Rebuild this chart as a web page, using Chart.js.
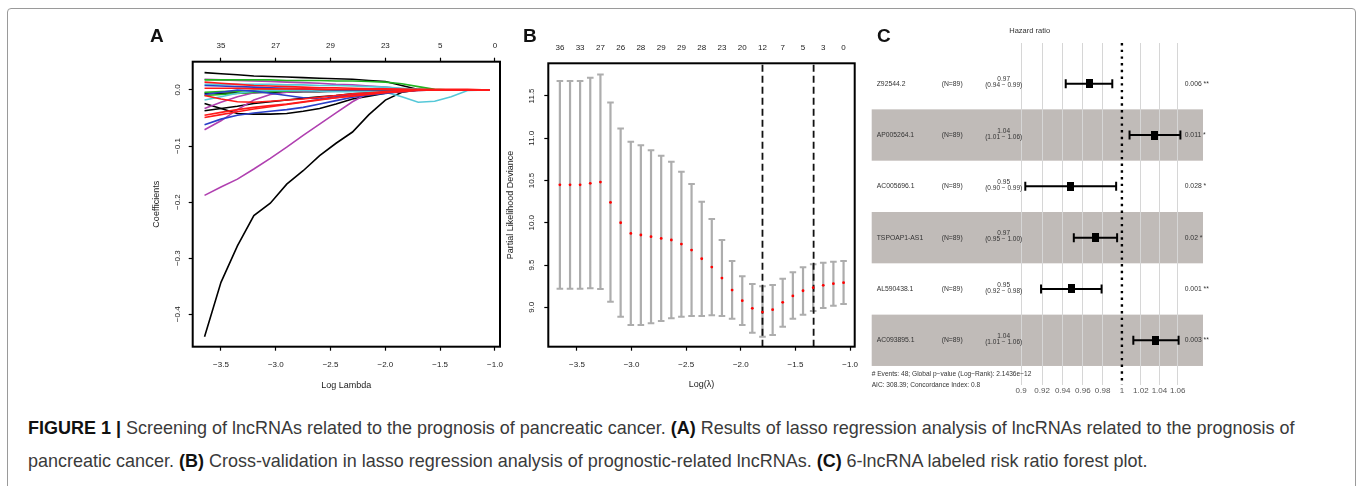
<!DOCTYPE html>
<html>
<head>
<meta charset="utf-8">
<script src="https://cdn.jsdelivr.net/npm/chart.js@4.4.0/dist/chart.umd.min.js"></script>
<style>
  html, body { margin: 0; padding: 0; background: #fff; }
  body { width: 1357px; height: 486px; position: relative; overflow: hidden; font-family: "Liberation Sans", Arial, sans-serif; }
  .frame { position: absolute; left: 7px; top: 8px; width: 1347px; height: 500px; border: 1px solid #9a9a9a; border-radius: 4px; }
  canvas { position: absolute; top: 0; }
  .letter { position: absolute; font-weight: bold; font-size: 19px; color: #111; line-height: 1; }
  .caption { position: absolute; left: 28px; color: #3a3a3a; white-space: nowrap; font-size: 16px; line-height: 1.1; }
  .caption b { color: #111; }
</style>
</head>
<body>
<div class="frame"></div>

<canvas id="chartA" width="385" height="400" style="left:130px"></canvas>
<canvas id="chartB" width="372" height="400" style="left:495px"></canvas>
<canvas id="chartC" width="360" height="400" style="left:862px"></canvas>

<div class="letter" style="left:150px; top:26px">A</div>
<div class="letter" style="left:523px; top:26px">B</div>
<div class="letter" style="left:877px; top:26px">C</div>

<div class="caption" id="cap1" style="top:419px"><b>FIGURE 1 |</b> Screening of lncRNAs related to the prognosis of pancreatic cancer. <b>(A)</b> Results of lasso regression analysis of lncRNAs related to the prognosis of</div>
<div class="caption" id="cap2" style="top:452px">pancreatic cancer. <b>(B)</b> Cross-validation in lasso regression analysis of prognostic-related lncRNAs. <b>(C)</b> 6-lncRNA labeled risk ratio forest plot.</div>

<script>
// ---------- A: coefficient paths ----------
const lamGrid = [-3.65, -3.5, -3.35, -3.2, -3.05, -2.9, -2.75, -2.6, -2.45, -2.3, -2.15, -2.0, -1.85, -1.7, -1.55, -1.4, -1.25, -1.05];
const xTicksA = [-3.5, -3.0, -2.5, -2.0, -1.5, -1.0];
const topTicksA = [35, 27, 29, 23, 5, 0];
const yTicksA = [-0.4, -0.3, -0.2, -0.1, 0.0];

const redA1   = [0.003, 0.003, 0.003, 0.002, 0.002, 0.002, 0.002, 0.001, 0.001, 0.001, 0.001, 0.001, 0.001, 0.001, 0.001, 0.001, 0.001, 0];
const redA2   = [0.014, 0.012, 0.010, 0.008, 0.007, 0.006, 0.005, 0.004, 0.004, 0.003, 0.002, 0.002, 0.001, 0, 0, 0, 0, 0];
const redA3   = [-0.010, -0.016, -0.021, -0.022, -0.020, -0.018, -0.016, -0.013, -0.010, -0.007, -0.005, -0.003, -0.001, 0, 0, 0, 0, 0];
const redA4   = [-0.045, -0.040, -0.035, -0.031, -0.028, -0.025, -0.021, -0.017, -0.014, -0.011, -0.008, -0.005, -0.003, -0.001, 0, 0, 0, 0];
const redA5   = [-0.049, -0.044, -0.039, -0.034, -0.030, -0.026, -0.022, -0.018, -0.014, -0.010, -0.007, -0.004, -0.002, 0, 0, 0, 0, 0];
const greenA1 = [0.018, 0.018, 0.018, 0.018, 0.018, 0.017, 0.017, 0.017, 0.016, 0.016, 0.015, 0.014, 0.011, 0.006, 0.001, 0, 0, 0];
const greenA2 = [-0.010, -0.008, -0.006, -0.004, -0.003, -0.002, -0.001, 0, 0, 0, 0, 0, 0, 0, 0, 0, 0, 0];
const greenA3 = [-0.004, -0.003, -0.002, -0.001, 0, 0, 0, 0, 0, 0, 0, 0, 0, 0, 0, 0, 0, 0];
const blueA1  = [0.008, 0.007, 0.006, 0.005, 0.004, 0.003, 0.002, 0.001, 0, 0, 0, 0, 0, 0, 0, 0, 0, 0];
const blueA2  = [-0.008, -0.004, 0, -0.002, -0.006, -0.010, -0.014, -0.016, -0.012, -0.008, -0.006, -0.004, -0.002, 0, 0, 0, 0, 0];
const blueA3  = [-0.062, -0.052, -0.045, -0.041, -0.038, -0.035, -0.031, -0.025, -0.019, -0.013, -0.009, -0.006, -0.003, -0.001, 0, 0, 0, 0];
const cyanA1  = [0.010, 0.010, 0.010, 0.010, 0.010, 0.009, 0.009, 0.008, 0.008, 0.007, 0.006, 0.005, 0.003, 0.001, 0, 0, 0, 0];
const cyanA2  = [-0.018, -0.012, -0.006, -0.002, -0.001, -0.001, -0.001, -0.002, -0.003, -0.003, -0.003, -0.004, -0.012, -0.022, -0.020, -0.012, -0.001, 0];
const purpA1  = [0.019, 0.018, 0.017, 0.016, 0.015, 0.014, 0.013, 0.012, 0.010, 0.009, 0.007, 0.005, 0.002, 0, 0, 0, 0, 0];
const purpA2  = [-0.033, -0.022, -0.012, -0.005, -0.002, -0.001, 0, 0, 0, 0, 0, 0, 0, 0, 0, 0, 0, 0];
const purpA3  = [-0.071, -0.055, -0.035, -0.018, -0.008, -0.004, -0.002, -0.001, 0, 0, 0, 0, 0, 0, 0, 0, 0, 0];
const purpA4  = [-0.188, -0.173, -0.159, -0.141, -0.122, -0.102, -0.081, -0.061, -0.041, -0.021, -0.005, 0, 0, 0, 0, 0, 0, 0];
const blackA1 = [0.031, 0.029, 0.027, 0.025, 0.024, 0.023, 0.022, 0.021, 0.020, 0.019, 0.017, 0.015, 0.008, 0.001, 0, 0, 0, 0];
const blackA2 = [-0.006, -0.006, -0.005, -0.005, -0.004, -0.004, -0.003, -0.003, -0.002, -0.002, -0.001, 0, 0, 0, 0, 0, 0, 0];
const blackA3 = [-0.024, -0.033, -0.042, -0.043, -0.043, -0.042, -0.038, -0.033, -0.025, -0.016, -0.011, -0.006, -0.002, 0, 0, 0, 0, 0];
const blackA4 = [-0.037, -0.033, -0.029, -0.024, -0.021, -0.018, -0.015, -0.012, -0.010, -0.007, -0.005, -0.003, -0.001, 0, 0, 0, 0, 0];
const blackA5 = [-0.440, -0.343, -0.278, -0.224, -0.202, -0.168, -0.144, -0.117, -0.095, -0.075, -0.044, -0.018, -0.004, 0, 0, 0, 0, 0];

// first drawn on top
const pathsA = [
  [redA1, '#ff1a1a'], [redA2, '#ff1a1a'], [redA3, '#ff1a1a'], [redA4, '#ff1a1a'], [redA5, '#ff1a1a'],
  [blueA1, '#2a3fc8'], [blueA2, '#2a3fc8'], [blueA3, '#2a3fc8'],
  [cyanA1, '#55c8d8'], [cyanA2, '#55c8d8'],
  [greenA1, '#22b422'], [greenA2, '#22b422'], [greenA3, '#22b422'],
  [purpA1, '#b040b0'], [purpA2, '#b040b0'], [purpA3, '#b040b0'], [purpA4, '#b040b0'],
  [blackA1, '#000'], [blackA2, '#000'], [blackA3, '#000'], [blackA4, '#000'], [blackA5, '#000']
];

// ---------- B: cross-validation ----------
const lamB = [-3.656, -3.563, -3.471, -3.378, -3.285, -3.193, -3.100, -3.007, -2.915, -2.822, -2.729, -2.636, -2.544, -2.451, -2.358,
              -2.266, -2.173, -2.080, -1.987, -1.895, -1.802, -1.709, -1.617, -1.524, -1.431, -1.338, -1.246, -1.153, -1.060];
const cvm  = [10.449, 10.449, 10.449, 10.466, 10.481, 10.241, 10.000, 9.874, 9.855, 9.835, 9.815, 9.796, 9.748, 9.677, 9.574,
              9.476, 9.346, 9.204, 9.078, 8.988, 8.944, 8.972, 9.059, 9.134, 9.196, 9.232, 9.260, 9.279, 9.291];
const cvup = [11.678, 11.678, 11.678, 11.714, 11.754, 11.423, 11.116, 10.958, 10.918, 10.859, 10.792, 10.721, 10.603, 10.457, 10.248,
              10.044, 9.796, 9.547, 9.366, 9.275, 9.248, 9.264, 9.338, 9.414, 9.473, 9.508, 9.527, 9.539, 9.547];
const cvlo = [9.220, 9.220, 9.220, 9.224, 9.216, 9.066, 8.889, 8.790, 8.790, 8.810, 8.838, 8.870, 8.889, 8.897, 8.897,
              8.905, 8.897, 8.866, 8.790, 8.700, 8.653, 8.673, 8.771, 8.866, 8.913, 8.956, 8.992, 9.019, 9.039];
const topTicksB = [36, 33, 27, 26, 28, 29, 29, 28, 23, 20, 12, 7, 5, 3, 0];
const xTicksB = [-3.5, -3.0, -2.5, -2.0, -1.5, -1.0];
const yTicksB = [9.0, 9.5, 10.0, 10.5, 11.0, 11.5];
const lambdaMin = -1.802;
const lambda1se = -1.334;

// ---------- C: forest plot ----------
const genes = ['Z92544.2', 'AP005264.1', 'AC005696.1', 'TSPOAP1-AS1', 'AL590438.1', 'AC093895.1'];
const nLabels = ['(N=89)', '(N=89)', '(N=89)', '(N=89)', '(N=89)', '(N=89)'];
const hr   = [0.967, 1.035, 0.948, 0.973, 0.949, 1.036];
const hrLo = [0.943, 1.008, 0.904, 0.951, 0.919, 1.012];
const hrHi = [0.990, 1.063, 0.994, 0.995, 0.979, 1.061];
const hrText = ['0.97', '1.04', '0.95', '0.97', '0.95', '1.04'];
const ciText = ['(0.94 \u2212 0.99)', '(1.01 \u2212 1.06)', '(0.90 \u2212 0.99)', '(0.95 \u2212 1.00)', '(0.92 \u2212 0.98)', '(1.01 \u2212 1.06)'];
const pText = ['0.006 **', '0.011 *', '0.028 *', '0.02 *', '0.001 **', '0.003 **'];
const hrTicks = [0.9, 0.92, 0.94, 0.96, 0.98, 1, 1.02, 1.04, 1.06];
const hrTickLabels = ['0.9', '0.92', '0.94', '0.96', '0.98', '1', '1.02', '1.04', '1.06'];
const footer = ['# Events: 48; Global p\u2212value (Log\u2212Rank): 2.1436e\u221212', 'AIC: 308.39; Concordance Index: 0.8'];

const fontFam = '"Liberation Sans", Arial, sans-serif';
Chart.defaults.font.family = fontFam;
Chart.defaults.color = '#222';
Chart.defaults.animation = false;

const minus = v => v.toFixed(1).replace('-', '\u2212');

// R style box around the plotting region
const boxPlugin = {
    id: 'rbox',
    afterDatasetsDraw(chart) {
        const { ctx, chartArea: a } = chart;
        ctx.save();
        ctx.strokeStyle = '#000';
        ctx.lineWidth = 2;
        ctx.strokeRect(a.left, a.top, a.right - a.left, a.bottom - a.top);
        ctx.restore();
    }
};

const tickGrid = { drawOnChartArea: false, drawTicks: true, tickLength: 4, tickColor: '#000', tickWidth: 1.2 };
const base = {
    responsive: false, animation: false, events: [],
    plugins: { legend: { display: false }, tooltip: { enabled: false } }
};

// Panel A
new Chart(document.getElementById('chartA'), {
    type: 'line',
    data: {
        datasets: pathsA.map(([vals, col]) => ({
            data: lamGrid.map((x, i) => ({ x, y: vals[i] })),
            borderColor: col, borderWidth: 1.6, pointRadius: 0, tension: 0, fill: false
        }))
    },
    options: {
        ...base,
        layout: { padding: { top: 0, right: 15, bottom: 0, left: 0 } },
        scales: {
            x: {
                type: 'linear', position: 'bottom', min: -3.758, max: -0.954,
                afterBuildTicks: s => { s.ticks = xTicksA.map(v => ({ value: v })); },
                afterFit: s => { s.height = 53.3; },
                ticks: { callback: v => minus(v), font: { size: 8 }, padding: 9.5, maxRotation: 0 },
                grid: tickGrid, border: { display: false },
                title: { display: true, text: 'Log Lambda', font: { size: 9 }, padding: { top: 0, bottom: 8.6 } }
            },
            x2: {
                type: 'linear', position: 'top', min: -3.758, max: -0.954,
                afterBuildTicks: s => { s.ticks = xTicksA.map(v => ({ value: v })); },
                afterFit: s => { s.height = 61.7; },
                ticks: { callback: (v, i) => String(topTicksA[i]), font: { size: 8 }, padding: 6.9, maxRotation: 0 },
                grid: tickGrid, border: { display: false }
            },
            y: {
                type: 'linear', min: -0.4578, max: 0.0504,
                afterBuildTicks: s => { s.ticks = yTicksA.map(v => ({ value: v })); },
                afterFit: s => { s.width = 62.7; },
                ticks: { callback: v => minus(v), font: { size: 8 }, padding: 3, minRotation: 90, maxRotation: 90, crossAlign: 'center' },
                grid: tickGrid, border: { display: false },
                title: { display: true, text: 'Coefficients', font: { size: 9 }, padding: { top: 21, bottom: 0 } }
            }
        }
    },
    plugins: [boxPlugin]
});

// Panel B
const yMinB = 8.534, yMaxB = 11.886;
new Chart(document.getElementById('chartB'), {
    type: 'line',
    data: {
        datasets: [
            {   // mean deviance
                data: lamB.map((x, i) => ({ x, y: cvm[i] })),
                showLine: false, pointRadius: 1.4, pointBorderWidth: 0, pointBackgroundColor: '#ff0000'
            },
            {
                data: [{ x: lambdaMin, y: yMinB }, { x: lambdaMin, y: yMaxB }],
                borderColor: '#111', borderWidth: 1.8, borderDash: [7, 4], pointRadius: 0
            },
            {
                data: [{ x: lambda1se, y: yMinB }, { x: lambda1se, y: yMaxB }],
                borderColor: '#111', borderWidth: 1.8, borderDash: [7, 4], pointRadius: 0
            },
            {   // error bars
                data: lamB.flatMap((x, i) => [{ x, y: cvlo[i] }, { x, y: cvup[i] }, { x, y: null }]),
                borderColor: '#adadad', borderWidth: 2.2, spanGaps: false,
                pointStyle: 'line', pointRadius: 3.3, pointBorderWidth: 2, pointBorderColor: '#adadad'
            }
        ]
    },
    options: {
        ...base,
        layout: { padding: { top: 0, right: 8, bottom: 0, left: 0 } },
        scales: {
            x: {
                type: 'linear', position: 'bottom', min: -3.762, max: -0.958,
                afterBuildTicks: s => { s.ticks = xTicksB.map(v => ({ value: v })); },
                afterFit: s => { s.height = 53.3; },
                ticks: { callback: v => minus(v), font: { size: 8 }, padding: 8.8, maxRotation: 0 },
                grid: tickGrid, border: { display: false },
                title: { display: true, text: 'Log(\u03BB)', font: { size: 9 }, padding: { top: 0, bottom: 10.3 } }
            },
            x2: {
                type: 'linear', position: 'top', min: -3.762, max: -0.958,
                afterBuildTicks: s => { s.ticks = lamB.filter((v, i) => i % 2 === 0).map(v => ({ value: v })); },
                afterFit: s => { s.height = 63.3; },
                ticks: { callback: (v, i) => String(topTicksB[i]), font: { size: 8 }, padding: 10.8, maxRotation: 0, autoSkip: false },
                grid: { display: false, drawTicks: false }, border: { display: false }
            },
            y: {
                type: 'linear', min: yMinB, max: yMaxB,
                afterBuildTicks: s => { s.ticks = yTicksB.map(v => ({ value: v })); },
                afterFit: s => { s.width = 53.3; },
                ticks: { callback: v => v.toFixed(1), font: { size: 8 }, padding: 4.8, minRotation: 90, maxRotation: 90, crossAlign: 'center' },
                grid: tickGrid, border: { display: false },
                title: { display: true, text: 'Partial Likelihood Deviance', font: { size: 9 }, padding: { top: 10.3, bottom: 0 } }
            }
        }
    },
    plugins: [boxPlugin]
});

// Panel C
const yMinC = -0.793, yMaxC = 5.871;
const square = document.createElement('canvas');
square.width = 7; square.height = 9;
const sq = square.getContext('2d');
sq.fillStyle = '#000';
sq.fillRect(0, 0, 7, 9);

const forestDecor = {
    id: 'forestDecor',
    beforeDraw(chart) {
        const { ctx, chartArea: a } = chart;
        const y = chart.scales.y;
        ctx.save();
        ctx.fillStyle = '#c0bbb8';
        genes.forEach((g, i) => {
            if (i % 2 === 1) {
                const t = y.getPixelForValue(i - 0.5), b = y.getPixelForValue(i + 0.5);
                ctx.fillRect(a.left, Math.min(t, b), a.right - a.left, Math.abs(b - t));
            }
        });
        ctx.restore();
    },
    afterDraw(chart) {
        const { ctx, chartArea: a } = chart;
        const y = chart.scales.y;
        ctx.save();
        ctx.fillStyle = '#333';
        ctx.textBaseline = 'middle';
        ctx.font = '6.8px ' + fontFam;
        genes.forEach((g, i) => {
            const py = y.getPixelForValue(i);
            ctx.textAlign = 'left';
            ctx.fillText(g, a.left + 5, py);
            ctx.fillText(nLabels[i], a.left + 70, py);
            ctx.fillText(pText[i], a.left + 313, py);
            ctx.textAlign = 'center';
            ctx.font = '6.5px ' + fontFam;
            ctx.fillText(hrText[i], a.left + 132, py - 4.2);
            ctx.fillText(ciText[i], a.left + 132, py + 2);
            ctx.font = '6.8px ' + fontFam;
        });
        ctx.textAlign = 'center';
        ctx.font = '7.5px ' + fontFam;
        ctx.fillText('Hazard ratio', a.left + 158, 31);
        ctx.textAlign = 'left';
        ctx.font = '6.6px ' + fontFam;
        ctx.fillText(footer[0], a.left, a.bottom - 11);
        ctx.fillText(footer[1], a.left, a.bottom);
        ctx.restore();
    }
};

new Chart(document.getElementById('chartC'), {
    type: 'line',
    data: {
        datasets: [
            {
                data: hr.map((v, i) => ({ x: v, y: i })),
                showLine: false, pointStyle: square, pointRadius: 5
            },
            {
                data: hrLo.flatMap((lo, i) => [{ x: lo, y: i }, { x: hrHi[i], y: i }, { x: hrHi[i], y: null }]),
                borderColor: '#000', borderWidth: 2, spanGaps: false,
                pointStyle: 'line', pointRotation: 90, pointRadius: 4.5, pointBorderWidth: 2, pointBorderColor: '#000'
            },
            {
                data: [{ x: 1, y: yMinC }, { x: 1, y: yMaxC }],
                borderColor: '#000', borderWidth: 2.4, borderDash: [2.4, 4.3], pointRadius: 0
            }
        ]
    },
    options: {
        ...base,
        layout: { padding: { top: 43, right: 19, bottom: 0, left: 9.7 } },
        scales: {
            x: {
                type: 'logarithmic', position: 'bottom', min: 0.770, max: 1.0884,
                afterBuildTicks: s => { s.ticks = hrTicks.map(v => ({ value: v })); },
                afterFit: s => { s.height = 15; },
                ticks: { callback: (v, i) => hrTickLabels[i], font: { size: 8 }, color: '#555', padding: 1, maxRotation: 0, autoSkip: false },
                grid: { color: c => (c.tick && c.tick.value === 1 ? 'rgba(0,0,0,0)' : '#d6d6d6'), lineWidth: 1, drawTicks: false },
                border: { display: false }
            },
            y: { type: 'linear', min: yMinC, max: yMaxC, reverse: true, display: false }
        }
    },
    plugins: [forestDecor]
});

// caption: fit first line to the reference width
const cap1 = document.getElementById('cap1');
const w1 = cap1.getBoundingClientRect().width;
const fs = 16 * 1267 / w1;
document.querySelectorAll('.caption').forEach(el => { el.style.fontSize = fs + 'px'; });
</script>
</body>
</html>
